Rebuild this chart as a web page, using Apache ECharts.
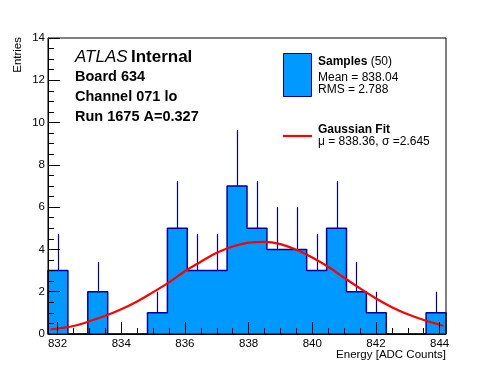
<!DOCTYPE html>
<html>
<head>
<meta charset="utf-8">
<script src="https://cdn.jsdelivr.net/npm/echarts@6/dist/echarts.min.js"></script>
<style>html,body{margin:0;padding:0;background:#fff}#c{width:496px;height:372px}</style>
</head>
<body>
<div id="c"></div>
<script>
// ---- data ----
const binStart = 831.7;
const binWidth = 0.625;
const counts = [3,0,2,0,0,1,5,3,3,7,5,4,4,3,5,2,1,0,0,1];
const errors = [1.73,0,1.41,0,0,1,2.24,1.73,1.73,2.65,2.24,2,2,1.73,2.24,1.41,1,0,0,1];
const fitX = [831.78,832.0,832.5,833.0,833.5,834.0,834.5,835.0,835.5,836.0,836.5,837.0,837.5,838.0,838.5,839.0,839.5,840.0,840.5,841.0,841.5,842.0,842.5,843.0,843.5,844.0,844.12];
const fitY = [0.22,0.26,0.38,0.60,0.86,1.17,1.54,1.98,2.44,2.97,3.42,3.84,4.14,4.32,4.36,4.25,3.98,3.62,3.18,2.66,2.16,1.68,1.27,0.93,0.66,0.44,0.39];
const xMajorTicks = [832,834,836,838,840,842,844];
const xMinorTicks = [832.5,833,833.5,834.5,835,835.5,836.5,837,837.5,838.5,839,839.5,840.5,841,841.5,842.5,843,843.5];
const yMin = 0, yMax = 14, yStep = 2;

const FONT = 'Liberation Sans, Arial, Helvetica, sans-serif';
const FILL = '#0099ff';
const EDGE = '#000099';

const xMin = binStart;
const xMax = binStart + binWidth * counts.length;

const errData = counts.map((c, i) => [binStart + (i + 0.5) * binWidth, c, errors[i]]).filter(d => d[2] > 0);
const outline = [[binStart, 0]];
counts.forEach((c, i) => {
  outline.push([binStart + i * binWidth, c]);
  outline.push([binStart + (i + 1) * binWidth, c]);
});
outline.push([xMax, 0]);
const fitData = fitX.map((x, i) => [x, fitY[i]]);

const chart = echarts.init(document.getElementById('c'), null, {renderer: 'canvas'});
const axisLabelStyle = {color: '#000', fontSize: 11.5, fontFamily: FONT};

chart.setOption({
  animation: false,
  grid: {left: 48, top: 38, width: 398, height: 296, show: true, borderColor: '#000', borderWidth: 1, backgroundColor: 'transparent', z: 10},
  xAxis: [{
    type: 'value', min: xMin, max: xMax, position: 'bottom', z: 10,
    axisLine: {show: true, lineStyle: {color: '#000', width: 1}},
    axisTick: {show: true, inside: true, length: 12, customValues: xMajorTicks, lineStyle: {color: '#000'}},
    axisLabel: Object.assign({customValues: xMajorTicks, margin: 4}, axisLabelStyle),
    splitLine: {show: false}
  }, {
    type: 'value', min: xMin, max: xMax, position: 'bottom', z: 10,
    axisLine: {show: false},
    axisTick: {show: true, inside: true, length: 6, customValues: xMinorTicks, lineStyle: {color: '#000'}},
    axisLabel: {show: false},
    splitLine: {show: false}
  }],
  yAxis: {
    type: 'value', min: yMin, max: yMax, interval: yStep, z: 10,
    axisLine: {show: true, lineStyle: {color: '#000', width: 1}},
    axisTick: {show: true, inside: true, length: 12, lineStyle: {color: '#000'}},
    minorTick: {show: true, splitNumber: 4, length: 6, lineStyle: {color: '#000'}},
    axisLabel: Object.assign({margin: 3}, axisLabelStyle),
    splitLine: {show: false}
  },
  series: [{
    type: 'line', z: 2, data: outline, symbol: 'none', silent: true,
    lineStyle: {color: EDGE, width: 1.5},
    areaStyle: {color: FILL, opacity: 1, origin: 'start'}
  }, {
    type: 'custom', z: 3, data: errData,
    renderItem: function (params, api) {
      const x = api.value(0), c = api.value(1), e = api.value(2);
      const p0 = api.coord([x, c]);
      const p1 = api.coord([x, c + e]);
      return {type: 'line', shape: {x1: Math.round(p0[0]) + 0.5, y1: p0[1], x2: Math.round(p0[0]) + 0.5, y2: p1[1]}, style: {stroke: EDGE, lineWidth: 1.2}};
    }
  }, {
    type: 'line', z: 4, data: fitData, symbol: 'none', smooth: 0.4, silent: true,
    lineStyle: {color: '#ff0000', width: 2.2}
  }],
  graphic: [
    {type: 'text', x: 75, y: 57, style: {text: '{i|ATLAS} {b|Internal}', verticalAlign: 'middle', fill: '#000',
      rich: {i: {fontStyle: 'italic', fontSize: 17, fontFamily: FONT, fill: '#000'}, b: {fontWeight: 'bold', fontSize: 17, fontFamily: FONT, fill: '#000'}}}},
    {type: 'text', x: 75, y: 77, style: {text: 'Board 634', font: 'bold 14.5px ' + FONT, fill: '#000', verticalAlign: 'middle'}},
    {type: 'text', x: 75, y: 97, style: {text: 'Channel 071 lo', font: 'bold 14.5px ' + FONT, fill: '#000', verticalAlign: 'middle'}},
    {type: 'text', x: 75, y: 116.5, style: {text: 'Run 1675 A=0.327', font: 'bold 14.5px ' + FONT, fill: '#000', verticalAlign: 'middle'}},
    {type: 'rect', shape: {x: 283.5, y: 53.5, width: 28, height: 43}, style: {fill: FILL, stroke: EDGE, lineWidth: 1}},
    {type: 'text', x: 318, y: 62, style: {text: '{b|Samples} {n|(50)}', verticalAlign: 'middle',
      rich: {b: {fontWeight: 'bold', fontSize: 12, fontFamily: FONT, fill: '#000'}, n: {fontSize: 12, fontFamily: FONT, fill: '#000'}}}},
    {type: 'text', x: 318, y: 77.5, style: {text: 'Mean = 838.04', font: '12px ' + FONT, fill: '#000', verticalAlign: 'middle'}},
    {type: 'text', x: 318, y: 90, style: {text: 'RMS = 2.788', font: '12px ' + FONT, fill: '#000', verticalAlign: 'middle'}},
    {type: 'line', shape: {x1: 283, y1: 136, x2: 312, y2: 136}, style: {stroke: '#ff0000', lineWidth: 2.2}},
    {type: 'text', x: 318, y: 129.5, style: {text: 'Gaussian Fit', font: 'bold 12px ' + FONT, fill: '#000', verticalAlign: 'middle'}},
    {type: 'text', x: 318, y: 142, style: {text: 'μ = 838.36, σ =2.645', font: '12px ' + FONT, fill: '#000', verticalAlign: 'middle'}},
    {type: 'text', x: 446, y: 355, style: {text: 'Energy [ADC Counts]', font: '11.5px ' + FONT, fill: '#000', align: 'right', verticalAlign: 'middle'}},
    {type: 'text', x: 18, y: 37, rotation: Math.PI / 2, style: {text: 'Entries', font: '11.5px ' + FONT, fill: '#000', align: 'right', verticalAlign: 'middle'}}
  ]
});
</script>
</body>
</html>
